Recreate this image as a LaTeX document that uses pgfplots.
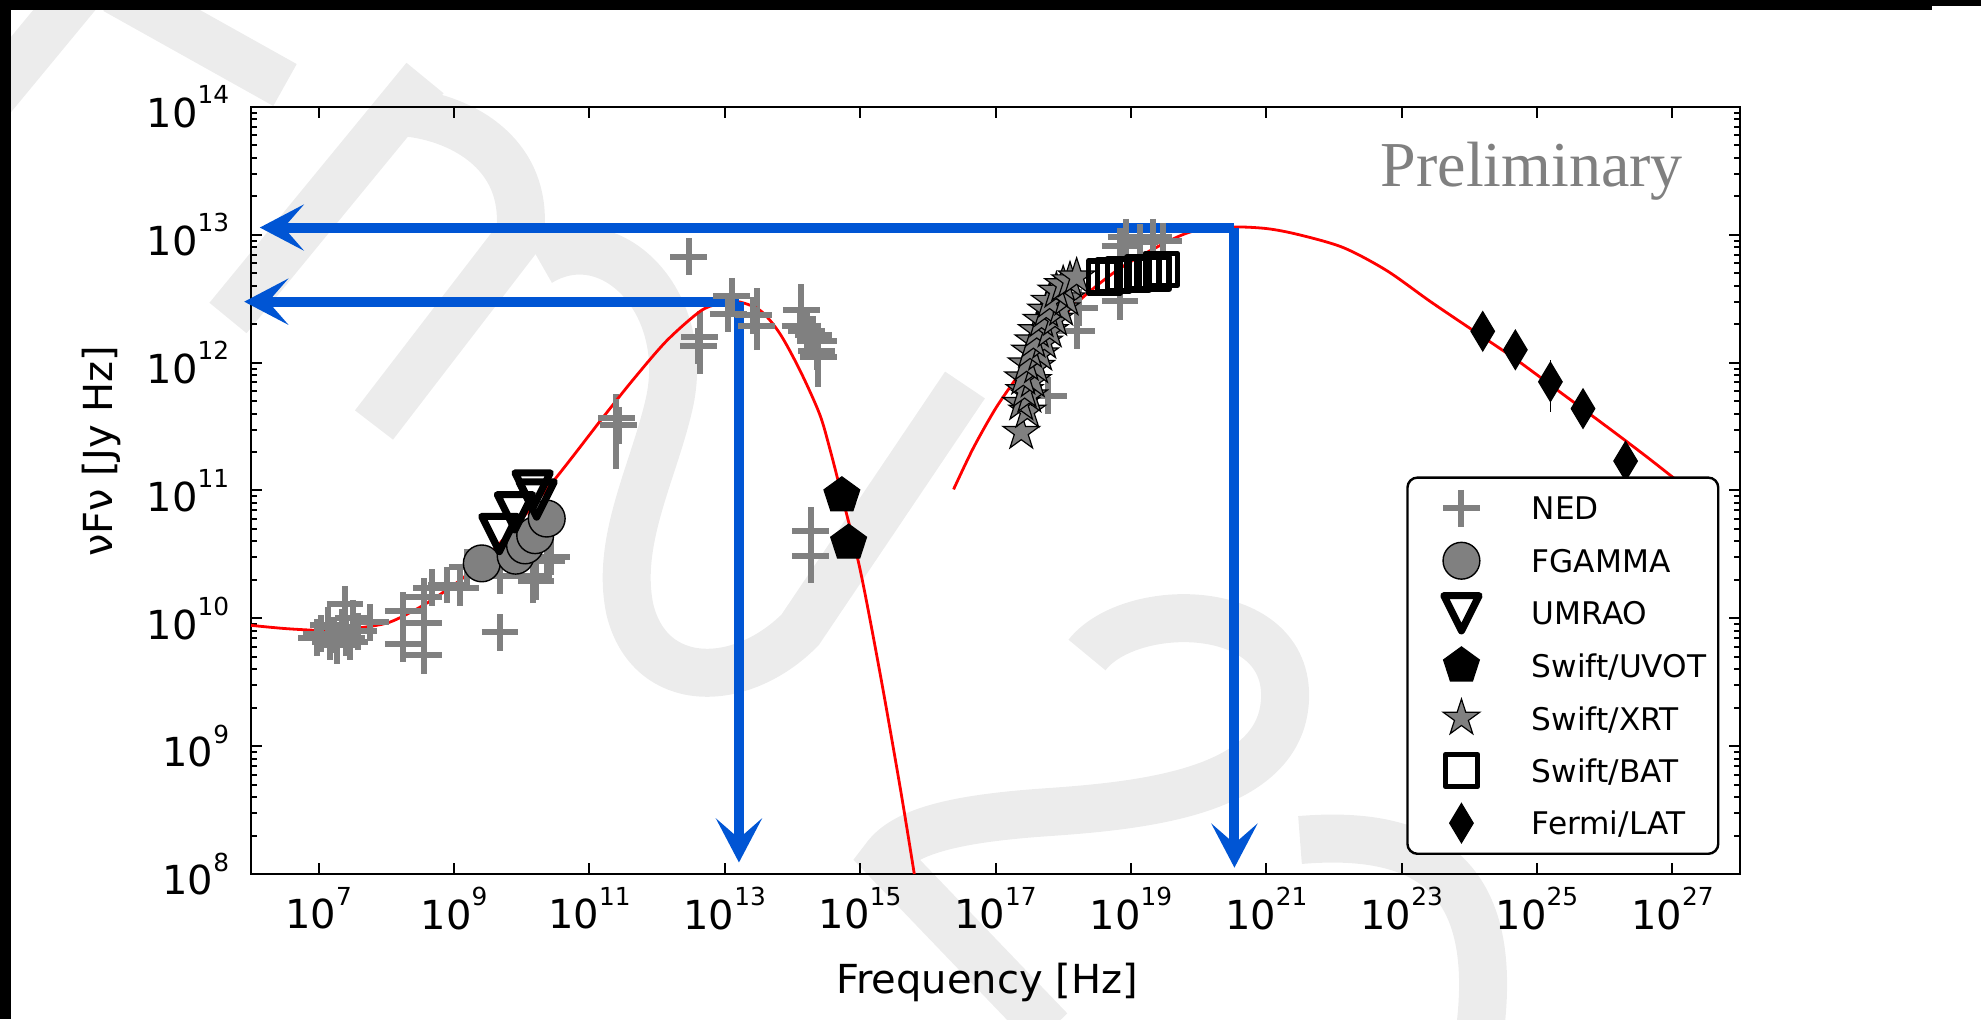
\documentclass[border=0pt]{standalone}
\usepackage{fontspec}
\setmainfont{DejaVu Sans}
\newfontfamily\prelimfont{Liberation Serif}
\usepackage{pgfplots}
\pgfplotsset{compat=1.18}
\usepackage{pgfplotstable}
\usetikzlibrary{arrows.meta}

\definecolor{wm}{RGB}{236,236,236}
\definecolor{arrowblue}{RGB}{0,85,212}
\definecolor{medgray}{RGB}{128,128,128}

% matplotlib-like markers
\pgfdeclareplotmark{mtri}{%
  \pgfpathmoveto{\pgfpoint{0pt}{-\pgfplotmarksize}}%
  \pgfpathlineto{\pgfpoint{\pgfplotmarksize}{\pgfplotmarksize}}%
  \pgfpathlineto{\pgfpoint{-\pgfplotmarksize}{\pgfplotmarksize}}%
  \pgfpathclose\pgfusepathqstroke}
\pgfdeclareplotmark{mpent}{%
  \pgfpathmoveto{\pgfpointpolar{90}{\pgfplotmarksize}}%
  \pgfpathlineto{\pgfpointpolar{162}{\pgfplotmarksize}}%
  \pgfpathlineto{\pgfpointpolar{234}{\pgfplotmarksize}}%
  \pgfpathlineto{\pgfpointpolar{306}{\pgfplotmarksize}}%
  \pgfpathlineto{\pgfpointpolar{18}{\pgfplotmarksize}}%
  \pgfpathclose\pgfusepathqfillstroke}
\pgfdeclareplotmark{mstar}{%
  \pgfpathmoveto{\pgfpointpolar{90}{\pgfplotmarksize}}%
  \pgfpathlineto{\pgfpointpolar{126}{0.382\pgfplotmarksize}}%
  \pgfpathlineto{\pgfpointpolar{162}{\pgfplotmarksize}}%
  \pgfpathlineto{\pgfpointpolar{198}{0.382\pgfplotmarksize}}%
  \pgfpathlineto{\pgfpointpolar{234}{\pgfplotmarksize}}%
  \pgfpathlineto{\pgfpointpolar{270}{0.382\pgfplotmarksize}}%
  \pgfpathlineto{\pgfpointpolar{306}{\pgfplotmarksize}}%
  \pgfpathlineto{\pgfpointpolar{342}{0.382\pgfplotmarksize}}%
  \pgfpathlineto{\pgfpointpolar{18}{\pgfplotmarksize}}%
  \pgfpathlineto{\pgfpointpolar{54}{0.382\pgfplotmarksize}}%
  \pgfpathclose\pgfusepathqfillstroke}
\pgfdeclareplotmark{mdiam}{%
  \pgfpathmoveto{\pgfpoint{0pt}{\pgfplotmarksize}}%
  \pgfpathlineto{\pgfpoint{0.6\pgfplotmarksize}{0pt}}%
  \pgfpathlineto{\pgfpoint{0pt}{-\pgfplotmarksize}}%
  \pgfpathlineto{\pgfpoint{-0.6\pgfplotmarksize}{0pt}}%
  \pgfpathclose\pgfusepathqfillstroke}

\newcommand{\pw}[1]{10\raisebox{5.9pt}{\fontsize{6.2pt}{7pt}\selectfont #1}}

% NED: x y plus-error minus-error
\pgfplotstableread{
x y ep em
9.33e6 7.08e9 0 0
1.10e7 7.59e9 0 0
1.38e7 8.81e9 0 0
1.48e7 6.53e9 0 0
1.66e7 7.41e9 0 0
1.86e7 6.17e9 0 0
2.19e7 8.51e9 0 0
2.45e7 1.29e10 0 0
2.57e7 7.08e9 0 0
2.88e7 6.53e9 0 0
3.24e7 1.00e10 0 0
3.85e7 7.94e9 0 0
5.75e7 9.33e9 0 0
1.78e8 1.15e10 0 0
1.78e8 6.31e9 0 0
3.55e8 9.12e9 0 0
3.55e8 5.13e9 0 0
3.55e8 1.48e10 0 0
4.68e8 1.74e10 0 0
7.76e8 1.82e10 0 0
1.23e9 1.74e10 0 0
1.55e9 2.51e10 0 0
4.79e9 7.76e9 0 0
4.79e9 2.14e10 0 0
1.48e10 2.14e10 6.8e9 6.3e9
1.62e10 1.95e10 0 0
2.34e10 2.82e10 0 0
2.75e10 3.02e10 0 0
2.51e11 3.72e11 1.18e11 2.02e11
2.69e11 3.24e11 0 0
2.95e12 6.76e12 0 0
4.27e12 1.58e12 6.1e11 6.3e11
4.07e12 1.35e12 0 0
1.26e13 3.31e12 0 0
1.12e13 2.40e12 0 0
2.63e13 2.34e12 0 0
2.95e13 1.95e12 1.36e12 5.0e11
1.35e14 2.57e12 9.8e11 0
1.29e14 1.95e12 0 0
1.62e14 1.78e12 0 0
2.04e14 1.66e12 0 0
2.40e14 1.48e12 0 0
2.29e14 1.23e12 0 0
2.40e14 1.10e12 1.6e11 3.5e11
1.86e14 4.79e10 1.67e10 0
1.86e14 3.09e10 0 9.0e9
6.03e17 5.50e11 0 0
1.58e18 1.78e12 0 0
1.74e18 2.69e12 0 0
6.92e18 3.02e12 0 0
6.92e18 8.13e12 0 0
8.51e18 9.55e12 0 0
1.35e19 8.71e12 0 0
2.14e19 9.55e12 0 0
3.02e19 8.91e12 0 0
}\ned

\pgfplotstableread{
x y
2.57e9 2.69e10
8.13e9 3.09e10
1.12e10 3.72e10
1.58e10 4.47e10
2.34e10 6.03e10
}\fgamma

\pgfplotstableread{
x y
4.68e9 4.57e10
7.94e9 6.76e10
1.66e10 8.51e10
1.45e10 1.00e11
}\umrao

\pgfplotstableread{
x y
5.37e14 9.12e10
6.76e14 3.89e10
}\uvot

\pgfplotstableread{
x y
2.40e17 2.85e11
2.95e17 4.17e11
2.40e17 4.79e11
3.16e17 5.50e11
2.69e17 6.03e11
3.55e17 7.24e11
2.57e17 7.59e11
3.98e17 9.33e11
2.88e17 9.77e11
4.57e17 1.17e12
3.24e17 1.23e12
5.25e17 1.45e12
3.63e17 1.48e12
4.07e17 1.78e12
6.31e17 1.78e12
4.79e17 2.14e12
7.59e17 2.19e12
5.62e17 2.57e12
9.33e17 2.63e12
6.31e17 3.02e12
1.12e18 3.16e12
7.94e17 3.63e12
1.00e18 4.07e12
1.26e18 4.37e12
1.58e18 4.68e12
}\xrt

\pgfplotstableread{
x y
4.07e18 4.68e12
5.50e18 4.79e12
7.76e18 4.90e12
1.07e19 4.90e12
1.51e19 5.01e12
2.14e19 5.01e12
2.82e19 5.37e12
}\bat

\pgfplotstableread{
x y ep em
1.58e24 1.76e12 0 0
4.79e24 1.26e12 0 0
1.58e25 7.08e11 2.0e11 2.3e11
4.79e25 4.37e11 0 0
2.04e26 1.70e11 0 0
}\lat

\begin{document}
\begin{tikzpicture}
\useasboundingbox (-62.75pt,-36.25pt) rectangle (432.5pt,218.5pt);
% faint watermark and frame, in pixel units of the reference
\begin{scope}[x=0.25pt,y=-0.25pt,shift={(-62.75pt,218.5pt)}]
  \clip (0,0) rectangle (1981,1019);
  \begin{scope}[draw=wm, line width=12pt]
    \draw (-10,100) -- (85,-15);
    \draw (115,-10) -- (285,85);
    \draw (228,318) -- (425,78);
    \draw (400,112) .. controls (455,115) and (530,150) .. (520,235) -- (374,425);
    \draw (540,262) .. controls (610,220) and (690,300) .. (670,400)
          .. controls (655,470) and (615,540) .. (630,610)
          .. controls (650,690) and (740,690) .. (800,630) -- (965,385);
    \draw (1087,655) .. controls (1130,600) and (1290,600) .. (1285,700)
          .. controls (1280,790) and (1150,805) .. (1050,812)
          .. controls (960,818) and (905,830) .. (885,858) -- (1050,1030);
    \draw (1300,840) .. controls (1420,830) and (1500,870) .. (1480,1030);
  \end{scope}
  \fill[black] (0,0) rectangle (1932,10);
  \fill[black] (1932,0) rectangle (1981,6);
  \fill[black] (0,0) rectangle (11,1019);
\end{scope}

\begin{axis}[
  at={(0pt,0pt)}, anchor=south west,
  scale only axis, width=372.25pt, height=191.75pt,
  xmode=log, ymode=log,
  xmin=1e6, xmax=1e28, ymin=1e8, ymax=1e14,
  clip=false,
  xtick={1e7,1e9,1e11,1e13,1e15,1e17,1e19,1e21,1e23,1e25,1e27},
  xticklabels={\pw{7},\pw{9},\pw{11},\pw{13},\pw{15},\pw{17},\pw{19},\pw{21},\pw{23},\pw{25},\pw{27}},
  ytick={1e8,1e9,1e10,1e11,1e12,1e13,1e14},
  yticklabels={\pw{8},\pw{9},\pw{10},\pw{11},\pw{12},\pw{13},\pw{14}},
  minor ytick={2e8,3e8,4e8,5e8,6e8,7e8,8e8,9e8,
    2e9,3e9,4e9,5e9,6e9,7e9,8e9,9e9,
    2e10,3e10,4e10,5e10,6e10,7e10,8e10,9e10,
    2e11,3e11,4e11,5e11,6e11,7e11,8e11,9e11,
    2e12,3e12,4e12,5e12,6e12,7e12,8e12,9e12,
    2e13,3e13,4e13,5e13,6e13,7e13,8e13,9e13},
  xminorticks=false,
  tick align=inside,
  major tick length=2.7pt, minor tick length=1.5pt,
  tick style={black, line width=0.5pt},
  axis line style={line width=0.65pt},
  tick label style={font=\fontsize{10pt}{12pt}\selectfont, inner sep=0pt},
  xticklabel shift=3.1pt, yticklabel shift=5.25pt,
  label style={font=\fontsize{10pt}{12pt}\selectfont},
  xlabel={Frequency [Hz]},
  ylabel={νFν [Jy Hz]},
  xlabel style={at={([yshift=-30pt]axis description cs:0.4943,0)}, anchor=base},
  ylabel style={at={([xshift=-37.5pt]axis description cs:0,0.5515)}, anchor=center},
  legend image code/.code={%
    \path[draw=none, fill=none] (-10.5pt,-6.56pt) rectangle (17.6pt,6.56pt);
    \draw[sharp corners,#1] plot coordinates {(0pt,0pt)};},
  legend cell align=left,
  legend style={at={(axis description cs:0.9862,0.0248)}, anchor=south east,
    draw=black, line width=0.6pt, rounded corners=2.5pt, fill=white,
    inner xsep=3pt, inner ysep=1.1pt, row sep=0pt, column sep=0pt,
    font=\fontsize{7.8pt}{9pt}\selectfont,
    nodes={inner sep=0pt, text depth=0pt}},
]

\addplot[/tikz/only marks, mark=+, mark size=4.6pt, medgray,
  mark options={line width=1.5pt, sharp corners},
  error bars/.cd, y dir=both, y explicit,
  error bar style={line width=1.5pt, medgray},
  error mark options={line width=1.5pt, mark size=2pt, medgray}]
  table[x=x, y=y, y error plus=ep, y error minus=em] {\ned};
\addlegendentry{NED}

\addplot[/tikz/only marks, mark=*, mark size=4.6pt,
  mark options={fill=medgray, draw=black, line width=0.35pt, sharp corners}]
  table[x=x, y=y] {\fgamma};
\addlegendentry{FGAMMA}

\addplot[/tikz/only marks, mark=mtri, mark size=4.4pt,
  mark options={draw=black, fill=none, line width=1.8pt, line join=round, sharp corners}]
  table[x=x, y=y] {\umrao};
\addlegendentry{UMRAO}

\addplot[/tikz/only marks, mark=mpent, mark size=4.7pt,
  mark options={fill=black, draw=black, line width=0.3pt, sharp corners}]
  table[x=x, y=y] {\uvot};
\addlegendentry{Swift/UVOT}

\addplot[/tikz/only marks, mark=mstar, mark size=4.8pt,
  mark options={fill=medgray, draw=black, line width=0.3pt, sharp corners}]
  table[x=x, y=y] {\xrt};
\addlegendentry{Swift/XRT}

\addplot[/tikz/only marks, mark=square, mark size=4.0pt,
  mark options={draw=black, fill=none, line width=1.4pt, line join=round, sharp corners}]
  table[x=x, y=y] {\bat};
\addlegendentry{Swift/BAT}

\addplot[/tikz/only marks, mark=mdiam, mark size=4.9pt,
  mark options={fill=black, draw=black, line width=0.3pt, sharp corners},
  error bars/.cd, y dir=both, y explicit,
  error bar style={line width=0.35pt, black},
  error mark options={line width=0.35pt, mark size=2pt, black}]
  table[x=x, y=y, y error plus=ep, y error minus=em] {\lat};
\addlegendentry{Fermi/LAT}

% model curves
\addplot[forget plot, red, line width=0.7pt, smooth, tension=0.5] coordinates {
  (1e6,8.81e9) (3.16e6,8.32e9) (1e7,8.04e9) (2e7,8.04e9) (3.98e7,8.41e9)
  (1.12e8,9.33e9) (3.47e8,1.26e10) (8.71e8,1.74e10) (1.70e9,2.29e10)
  (4.79e9,3.89e10) (1.17e10,6.61e10) (2.88e10,1.17e11) (5.75e10,1.86e11)
  (1.58e11,3.72e11) (4.47e11,7.41e11) (1.38e12,1.48e12) (4.27e12,2.51e12)
  (7.94e12,2.88e12) (1.48e13,3.02e12) (3.31e13,2.57e12) (6.46e13,1.70e12)
  (1.29e14,8.71e11) (2.51e14,3.98e11) (3.55e14,2.14e11) (5.37e14,9.12e10)
  (1e15,2.40e10) (2.0e15,3.55e9) (3.98e15,4.47e8) (6.31e15,1.0e8)};
\addplot[forget plot, red, line width=0.7pt, smooth, tension=0.5] coordinates {
  (2.40e16,1.02e11) (4.68e16,2.14e11) (1e17,4.37e11) (2.04e17,7.59e11)
  (3.16e17,1.05e12) (6.31e17,1.78e12) (1.95e18,3.24e12) (6.17e18,5.25e12)
  (1.91e19,7.50e12) (7.41e19,1.05e13) (2.88e20,1.15e13) (1e21,1.12e13)
  (3.09e21,1.0e13) (1.38e22,7.94e12) (6.03e22,5.25e12) (2.63e23,3.02e12)
  (1.15e24,1.78e12) (5.01e24,1.05e12) (2.19e25,5.89e11) (9.55e25,3.31e11)
  (4.27e26,1.82e11) (2.0e27,9.55e10)};

% peak markers
\addplot[forget plot, arrowblue, line width=2.5pt,
  -{Stealth[length=11pt,width=11.5pt,inset=5pt]}]
  coordinates {(3.39e20,1.14e13) (1.35e6,1.14e13)};
\addplot[forget plot, arrowblue, line width=2.5pt,
  -{Stealth[length=11pt,width=11.5pt,inset=5pt]}]
  coordinates {(3.39e20,1.14e13) (3.39e20,1.12e8)};
\addplot[forget plot, arrowblue, line width=2.5pt,
  -{Stealth[length=11pt,width=11.5pt,inset=5pt]}]
  coordinates {(1.62e13,3.0e12) (7.94e5,3.0e12)};
\addplot[forget plot, arrowblue, line width=2.5pt,
  -{Stealth[length=11pt,width=11.5pt,inset=5pt]}]
  coordinates {(1.62e13,3.0e12) (1.62e13,1.23e8)};

\node[anchor=base west, inner sep=0pt, text=medgray,
  font=\prelimfont\fontsize{16pt}{18pt}\selectfont]
  at (axis description cs:0.7582,0.8957) {Preliminary};
\end{axis}
\end{tikzpicture}
\end{document}
